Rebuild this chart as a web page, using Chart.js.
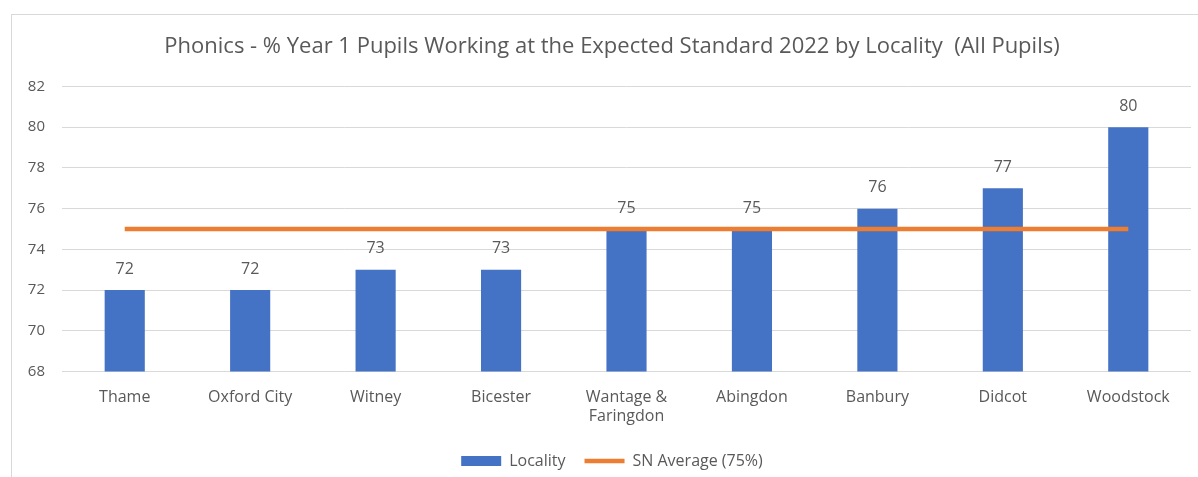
<!DOCTYPE html>
<html>
<head>
<meta charset="utf-8">
<script src="https://cdn.jsdelivr.net/npm/chart.js@4.4.0/dist/chart.umd.min.js"></script>
<style>
  html, body { margin: 0; padding: 0; background: #fff; overflow: hidden; }
  #frame { position: absolute; left: 11px; top: 14px; width: 1200px; height: 475px; border: 1px solid #d9d9d9; }
  #wrap { position: absolute; left: 0; top: 0; width: 1200px; height: 470px; }
</style>
</head>
<body>
<div id="frame">
  <div id="wrap"><canvas id="chartPhonics"></canvas></div>
</div>
<script>
const localities = ['Thame', 'Oxford City', 'Witney', 'Bicester', ['Wantage &', 'Faringdon'], 'Abingdon', 'Banbury', 'Didcot', 'Woodstock'];
const localityValues = [72, 72, 73, 73, 75, 75, 76, 77, 80];
const snAverage = [75, 75, 75, 75, 75, 75, 75, 75, 75];
const titleText = 'Phonics - % Year 1 Pupils Working at the Expected Standard 2022 by Locality  (All Pupils)';

const textGrey = '#595959';
const fontFam = '"Open Sans", sans-serif';

// value labels above each bar
const barLabels = {
    id: 'barLabels',
    afterDatasetsDraw(chart) {
        const ctx = chart.ctx;
        const meta = chart.getDatasetMeta(0);
        ctx.save();
        ctx.font = '16px ' + fontFam;
        ctx.fillStyle = textGrey;
        ctx.textAlign = 'center';
        ctx.textBaseline = 'middle';
        meta.data.forEach((bar, i) => {
            ctx.fillText(localityValues[i], bar.x, bar.y - 21);
        });
        ctx.restore();
    }
};

// centre title and legend on the whole frame, not the padded box
const centreBlocks = {
    id: 'centreBlocks',
    afterLayout(chart) {
        if (chart.titleBlock) chart.titleBlock.right = chart.width;
        if (chart.legend) chart.legend.right = chart.width;
    }
};

const ctx = document.getElementById('chartPhonics').getContext('2d');
new Chart(ctx, {
    data: {
        labels: localities,
        datasets: [
            { type: 'bar', label: 'Locality', data: localityValues, backgroundColor: '#4472C4', borderWidth: 0,
              barPercentage: 0.64, categoryPercentage: 0.5, order: 1, pointStyle: 'rect' },
            { type: 'line', label: 'SN Average (75%)', data: snAverage, borderColor: '#ED7D31', backgroundColor: '#ED7D31',
              borderWidth: 4.5, pointRadius: 0, order: 0, pointStyle: 'line' }
        ]
    },
    options: {
        responsive: true,
        maintainAspectRatio: false,
        animation: false,
        layout: { padding: { left: 0, right: 21, top: 19, bottom: 6 } },
        plugins: {
            title: { display: true, text: titleText, color: textGrey, font: { family: fontFam, size: 22, weight: 'normal' }, padding: { top: 0, bottom: 26 } },
            legend: {
                position: 'bottom',
                labels: {
                    color: textGrey, font: { family: fontFam, size: 16 },
                    usePointStyle: true, pointStyleWidth: 40, boxHeight: 10, padding: 19,
                    sort: (a, b) => a.datasetIndex - b.datasetIndex
                }
            },
            tooltip: { enabled: false }
        },
        scales: {
            x: {
                grid: { display: false },
                border: { display: false },
                ticks: { color: textGrey, font: { family: fontFam, size: 16 }, padding: 8, maxRotation: 0 }
            },
            y: {
                min: 68, max: 82,
                afterFit: (scale) => { scale.width = 50; },
                grid: { color: '#d9d9d9', drawTicks: false },
                border: { display: false },
                ticks: { stepSize: 2, color: textGrey, font: { family: fontFam, size: 15 }, padding: 17 }
            }
        }
    },
    plugins: [barLabels, centreBlocks]
});
</script>
</body>
</html>
